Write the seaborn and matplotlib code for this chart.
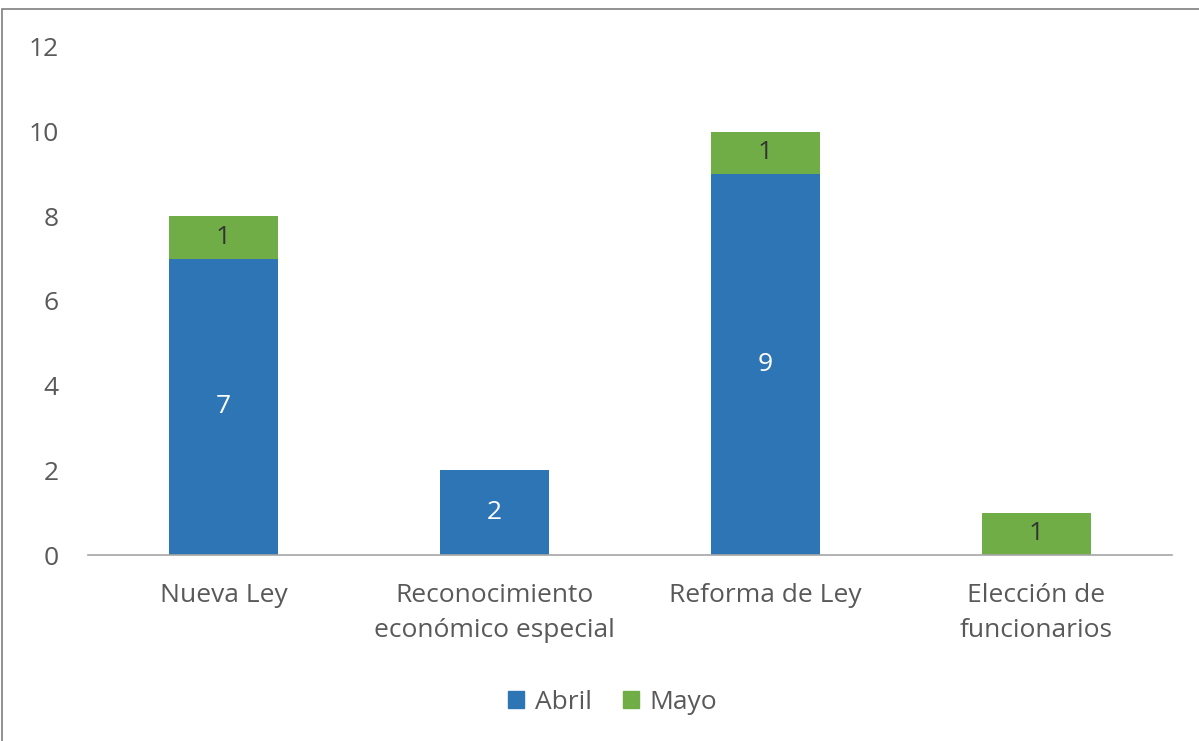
import seaborn as sns
import matplotlib.pyplot as plt
import pandas as pd
from matplotlib.patches import Rectangle, Patch

categorias = ["Nueva Ley", "Reconocimiento\neconómico especial", "Reforma de Ley", "Elección de\nfuncionarios"]
abril = [7, 2, 9, 0]
mayo = [1, 0, 1, 1]

azul = "#2E75B6"
verde = "#70AD47"
gris = "#595959"

sns.set_style("white")
plt.rcParams['font.family'] = ["Open Sans", "DejaVu Sans"]

df = pd.DataFrame({"cat": categorias, "Abril": abril, "Mayo": mayo})
df["total"] = df["Abril"] + df["Mayo"]

fig = plt.figure(figsize=(11.99, 7.41), dpi=100)
ax = fig.add_axes([0.0734, 0.251, 0.904, 0.6856])

# apilado: primero el total (verde), encima Abril (azul)
sns.barplot(data=df, x="cat", y="total", color=verde, width=0.4, saturation=1, linewidth=0, ax=ax)
sns.barplot(data=df, x="cat", y="Abril", color=azul, width=0.4, saturation=1, linewidth=0, ax=ax)

for i, (a, m) in enumerate(zip(abril, mayo)):
    if a > 0:
        ax.text(i, a / 2, str(a), ha="center", va="center", color="white", fontsize=19)
    if m > 0:
        ax.text(i, a + m / 2, str(m), ha="center", va="center", color="#333333", fontsize=19)

ax.set_ylim(0, 12)
ax.set_xlim(-0.5, 3.5)
ax.set_yticks(range(0, 13, 2))
ax.set_xlabel("")
ax.set_ylabel("")
ax.tick_params(axis="both", colors=gris, labelsize=19, length=0)
ax.tick_params(axis="x", pad=20)
ax.tick_params(axis="y", pad=21)
for t in ax.get_xticklabels():
    t.set_linespacing(1.55)
for s in ["top", "right", "left"]:
    ax.spines[s].set_visible(False)
ax.spines["bottom"].set_color("#A6A6A6")
ax.spines["bottom"].set_linewidth(1.2)

handles = [Patch(color=azul, label="Abril"), Patch(color=verde, label="Mayo")]
fig.legend(handles=handles, loc="center", bbox_to_anchor=(0.511, 0.052), ncol=2,
           frameon=False, fontsize=19, labelcolor=gris, handlelength=0.6, handleheight=0.6,
           handletextpad=0.4, columnspacing=1.2)

# marco de la figura
fig.patches.append(Rectangle((2 / 1199, -0.1), 1.2, (741 - 9) / 741 + 0.1,
                             transform=fig.transFigure, fill=False, edgecolor="#7F7F7F",
                             linewidth=1.2))

fig.savefig("out.png", dpi=100)
